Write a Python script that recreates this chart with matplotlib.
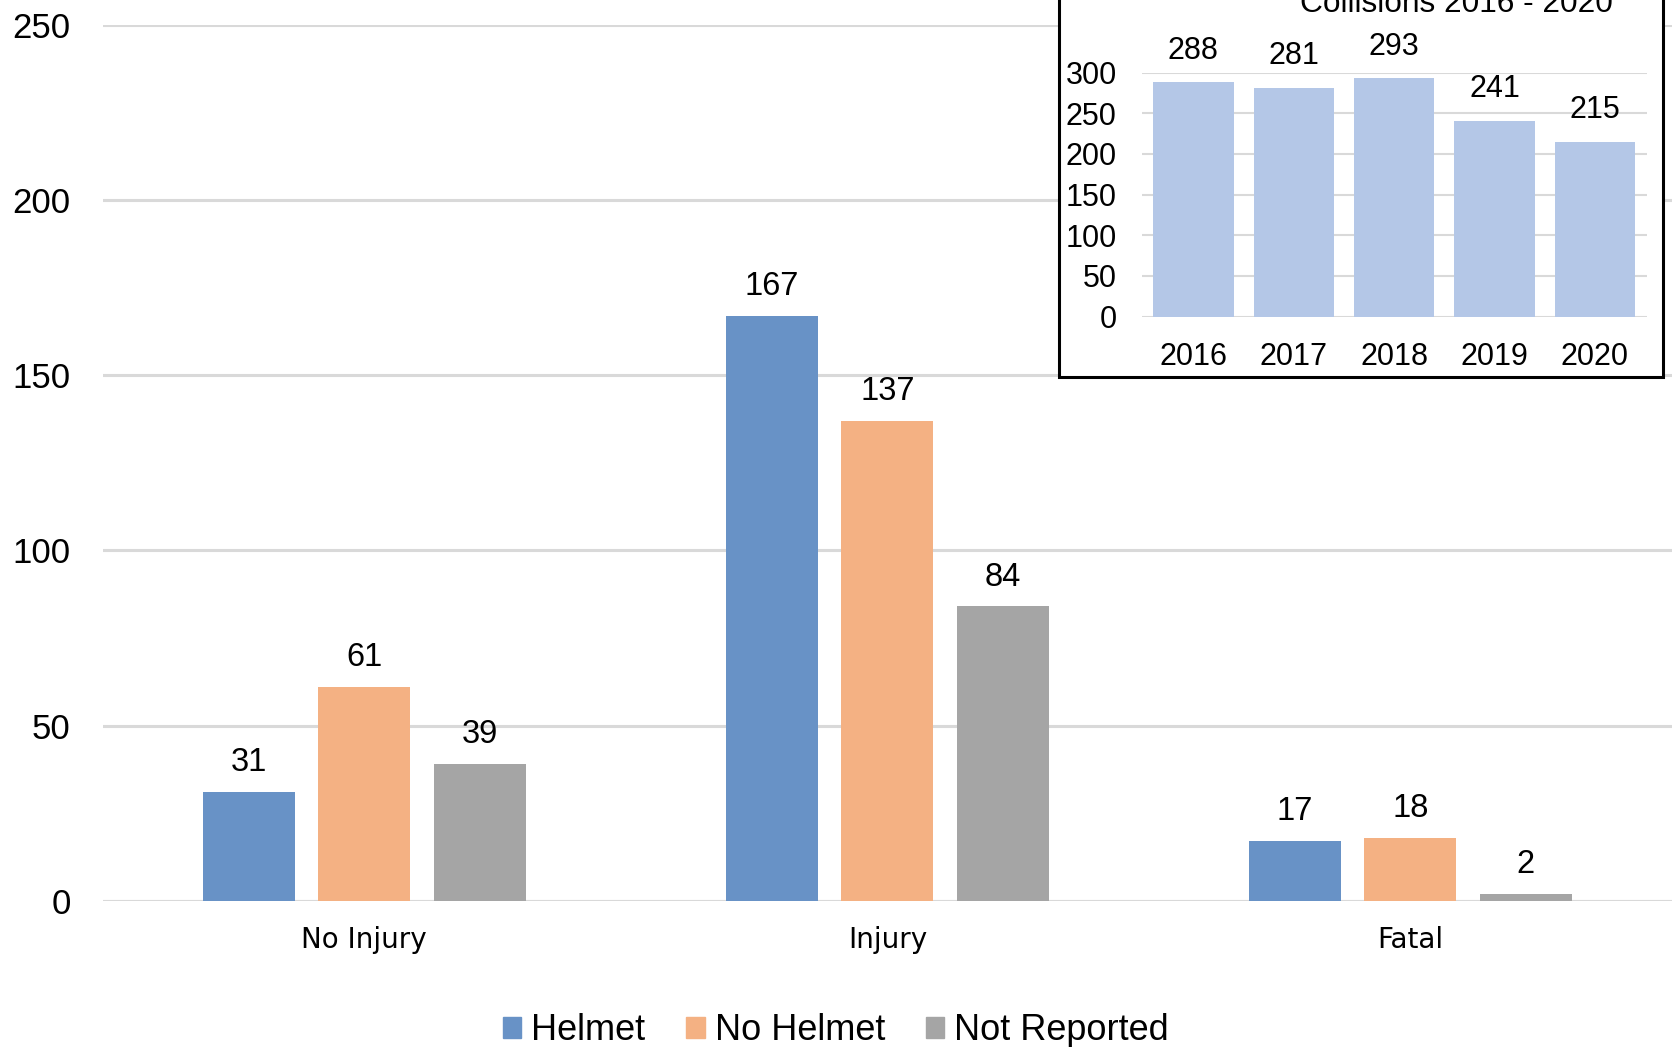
import matplotlib
matplotlib.use("Agg")
import matplotlib.pyplot as plt
import numpy as np
from matplotlib.patches import Rectangle

# data
categories = ["No Injury", "Injury", "Fatal"]
series_names = ["Helmet", "No Helmet", "Not Reported"]
helmet = [31, 167, 17]
no_helmet = [61, 137, 18]
not_reported = [39, 84, 2]

years = ["2016", "2017", "2018", "2019", "2020"]
collisions = [288, 281, 293, 241, 215]
inset_title = "Collisions 2016 - 2020"

colors = ["#6892C6", "#F4B183", "#A5A5A5"]
inset_color = "#B4C7E7"
grid_color = "#D9D9D9"

plt.rcParams["font.family"] = ["Liberation Sans", "DejaVu Sans"]

fig = plt.figure(figsize=(16.75, 10.47), dpi=100)

# main chart
ax = fig.add_axes([0.0613, 0.1398, 0.9369, 0.8363])
ax.set_zorder(0)
x = np.arange(len(categories))
width = 0.176
step = 0.2206
for i, (vals, name) in enumerate(zip([helmet, no_helmet, not_reported], series_names)):
    b = ax.bar(x + (i - 1) * step, vals, width, color=colors[i], label=name, zorder=3)
    for rect, v in zip(b, vals):
        ax.annotate(str(v), (rect.get_x() + rect.get_width() / 2, v),
                    xytext=(0, 15), textcoords="offset points",
                    ha="center", va="baseline", fontsize=23.5)

ax.set_xlim(-0.5, 2.5)
ax.set_ylim(0, 250)
ax.set_yticks([0, 50, 100, 150, 200, 250])
ax.yaxis.grid(True, color=grid_color, linewidth=2.2, zorder=0)
ax.set_axisbelow(True)
for s in ax.spines.values():
    s.set_visible(False)
ax.axhline(0, color=grid_color, linewidth=2.2, zorder=1)
ax.tick_params(axis="y", length=0, pad=23, labelsize=25)
ax.tick_params(axis="x", length=0, pad=18)
ax.set_xticks(x)
ax.set_xticklabels(categories, fontsize=20, family="DejaVu Sans")

# legend
handles = [Rectangle((0, 0), 1, 1, color=c) for c in colors]
fig.legend(handles, series_names, loc="center", bbox_to_anchor=(836 / 1675, 1 - 1031 / 1047),
           ncol=3, frameon=False, fontsize=26, handlelength=0.5, handleheight=0.5,
           handletextpad=0.28, columnspacing=1.14, borderaxespad=0)

# inset frame
box = Rectangle((0.6325, 0.6399), 0.3603, 0.5, transform=fig.transFigure,
                facecolor="white", edgecolor="black", linewidth=2.2, zorder=1)
fig.add_artist(box)

# inset chart
axi = fig.add_axes([0.6816, 0.6977, 0.3015, 0.2329])
axi.set_zorder(2)
axi.patch.set_alpha(0)
xi = np.arange(len(years))
bi = axi.bar(xi, collisions, 0.8, color=inset_color, zorder=3)
for rect, v in zip(bi, collisions):
    axi.annotate(str(v), (rect.get_x() + rect.get_width() / 2, v),
                 xytext=(0, 17), textcoords="offset points",
                 ha="center", va="baseline", fontsize=22)
axi.set_xlim(-0.515, 4.515)
axi.set_ylim(0, 300)
axi.set_yticks([0, 50, 100, 150, 200, 250, 300])
axi.yaxis.grid(True, color=grid_color, linewidth=1.5, zorder=0)
axi.set_axisbelow(True)
for s in axi.spines.values():
    s.set_visible(False)
axi.set_xticks(xi)
axi.set_xticklabels(years)
axi.tick_params(axis="both", length=0, labelsize=22)
axi.tick_params(axis="y", pad=18)
axi.tick_params(axis="x", pad=18)

# title of the inset, cut by the top edge as in the original
fig.text(1456 / 1675, 1 - 12 / 1047, inset_title, ha="center", va="baseline", fontsize=22.8)

fig.savefig("out.png", dpi=100)
